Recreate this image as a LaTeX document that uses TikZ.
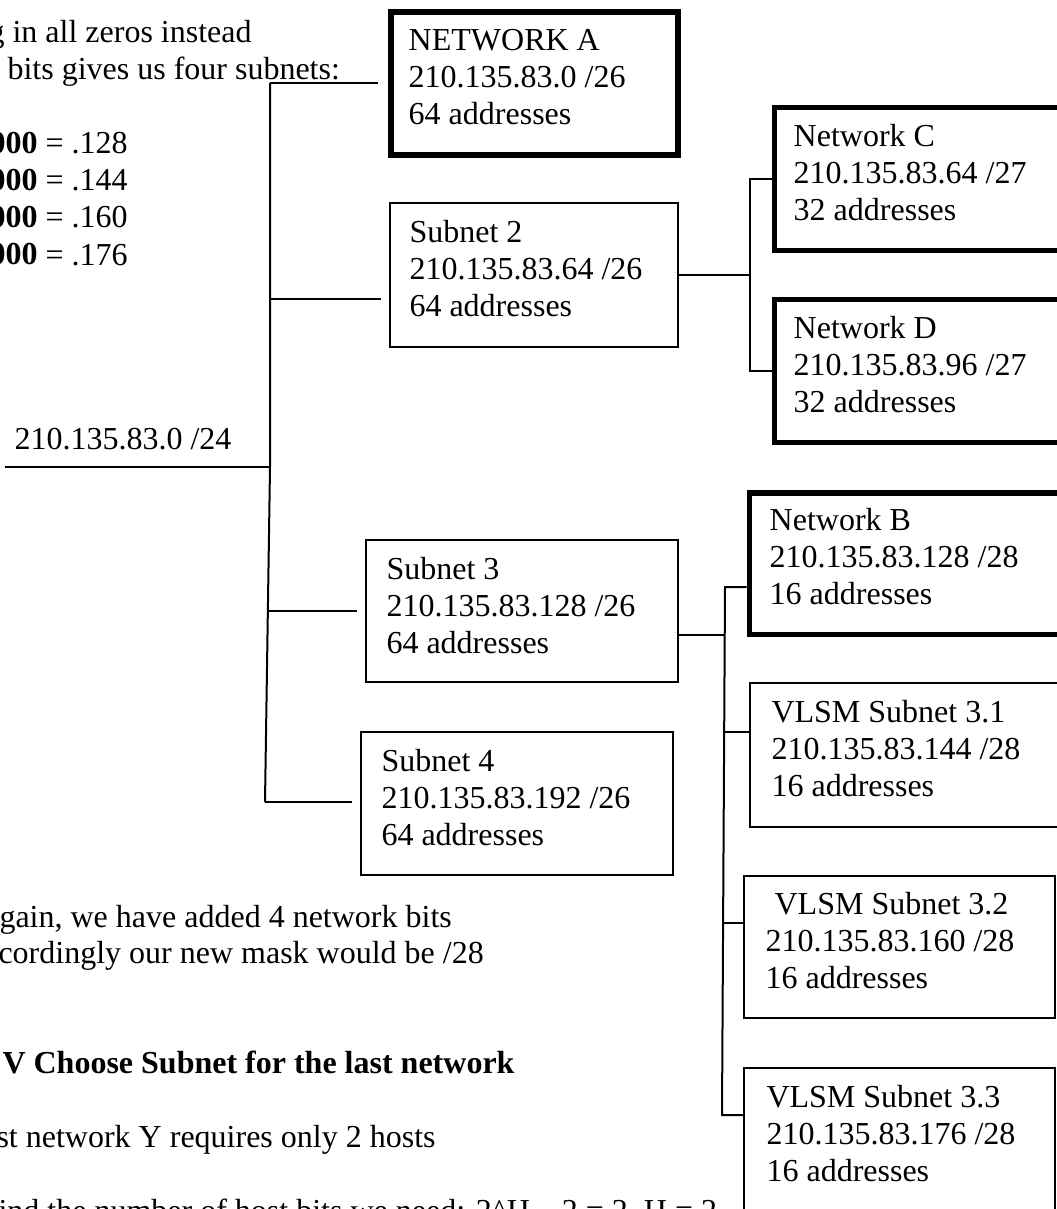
\documentclass[tikz,border=0pt]{standalone}
\usepackage{fontspec}
\setmainfont{Liberation Serif}
\usetikzlibrary{fit,calc}
% stacked lines whose reference point is the first baseline
\newcommand\boxlines[3]{\vtop{\hbox{#1}\hbox{#2}\hbox{#3}}}
\begin{document}
\begin{tikzpicture}[x=0.375pt,y=-0.375pt,
  font=\fontsize{12}{13.875}\selectfont,
  conn/.style={line width=0.75pt},
  gapA/.style={shorten >=3.75pt},
  gapB/.style={shorten >=3pt},
  thinbox/.style={draw, line width=0.75pt, inner sep=0pt},
  thickbox/.style={draw, line width=2.1pt, inner sep=0pt},
  plain/.style={anchor=base west, inner sep=0pt},
  boxtext/.style={plain}]
\useasboundingbox (0,0) rectangle (1057,1209);
\clip (0,0) rectangle (1057,1209);

% running text around the tree
\node[plain] (p1) at (-12,43) {g in all zeros instead};
\node[plain] (p2) at (7,80) {bits gives us four subnets:};
\node[plain] (bin) at (-11,154)
  {\vtop{\hbox{\textbf{000} = .128}\hbox{\textbf{000} = .144}\hbox{\textbf{000} = .160}\hbox{\textbf{000} = .176}}};
\node[plain] (q1) at (-1,927) {gain, we have added 4 network bits};
\node[plain] (q2) at (-2,963) {cordingly our new mask would be /28};
\node[plain] (q3) at (2,1073) {\textbf{V Choose Subnet for the last network}};
\node[plain] (q4) at (-4,1147) {st network Y requires only 2 hosts};
\node[plain] (q5) at (-2,1221) {ind the number of host bits we need: 2\textasciicircum H – 2 = 2, H = 2};

% /26 level
\node[thickbox, fit={(391,12) (678,155)}] (netA) {};
\node[boxtext] (netAt) at ($(netA.north west)+(20,41)$) {\boxlines{NETWORK A}{210.135.83.0 /26}{64 addresses}};
\node[thinbox, fit={(390,203) (678,347)}] (s2) {};
\node[boxtext] (s2t) at ($(s2.north west)+(20,40)$) {\boxlines{Subnet 2}{210.135.83.64 /26}{64 addresses}};
\node[thinbox, fit={(366,540) (678,682)}] (s3) {};
\node[boxtext] (s3t) at ($(s3.north west)+(21,40)$) {\boxlines{Subnet 3}{210.135.83.128 /26}{64 addresses}};
\node[thinbox, fit={(361,732) (673,875)}] (s4) {};
\node[boxtext] (s4t) at ($(s4.north west)+(21,40)$) {\boxlines{Subnet 4}{210.135.83.192 /26}{64 addresses}};

% /27 level
\node[thickbox, fit={(774.5,107.5) (1075,250.5)}] (netC) {};
\node[boxtext] (netCt) at ($(netC.north west)+(21.5,41.5)$) {\boxlines{Network C}{210.135.83.64 /27}{32 addresses}};
\node[thickbox, fit={(774.5,299.5) (1075,442.5)}] (netD) {};
\node[boxtext] (netDt) at ($(netD.north west)+(21.5,41.5)$) {\boxlines{Network D}{210.135.83.96 /27}{32 addresses}};

% /28 level
\node[thickbox, fit={(749.5,493) (1075,634.5)}] (netB) {};
\node[boxtext] (netBt) at ($(netB.north west)+(22.5,40)$) {\boxlines{Network B}{210.135.83.128 /28}{16 addresses}};
\node[thinbox, fit={(750,683) (1075,827)}] (v31) {};
\node[boxtext] (v31t) at ($(v31.north west)+(22,40)$) {\boxlines{VLSM Subnet 3.1}{210.135.83.144 /28}{16 addresses}};
\node[thinbox, fit={(744,876) (1055,1018)}] (v32) {};
\node[boxtext] (v32t) at ($(v32.north west)+(22,39)$) {\boxlines{\hspace*{3.4pt}VLSM Subnet 3.2}{210.135.83.160 /28}{16 addresses}};
\node[thinbox, fit={(744,1068) (1055,1240)}] (v33) {};
\node[boxtext] (v33t) at ($(v33.north west)+(23,40)$) {\boxlines{VLSM Subnet 3.3}{210.135.83.176 /28}{16 addresses}};

% root and trunk
\node[plain] (rootlbl) at (14,449) {210.135.83.0 /24};
\coordinate (rootEnd) at (5,467);
\coordinate (trTop) at (270,83);
\coordinate (trS2) at (270,299);
\coordinate (trRoot) at (270,467);
\coordinate (trS3) at (268,611);
\coordinate (trBot) at (265,802);
\draw[conn] (rootEnd) -- (trRoot);
\draw[conn] (trTop) -- (trRoot) -- (trBot);
\draw[conn, gapA] (trTop) -- (trTop -| netA.west);
\draw[conn, gapB] (trS2) -- (trS2 -| s2.west);
\draw[conn, gapB] (trS3) -- (trS3 -| s3.west);
\draw[conn, gapB] (trBot) -- (trBot -| s4.west);

% Subnet 2 split
\coordinate (jS2) at (750,275);
\coordinate (jC) at (750,179);
\coordinate (jD) at (750,371);
\draw[conn] (s2.east |- jS2) -- (jS2);
\draw[conn] (jC -| netC.west) -- (jC) -- (jD) -- (jD -| netD.west);

% Subnet 3 split
\coordinate (jS3) at (724.7,635);
\coordinate (jB) at (725,587);
\coordinate (jV1) at (724.2,732);
\coordinate (jV2) at (723.1,923);
\coordinate (jV3) at (722,1115);
\draw[conn] (s3.east |- jS3) -- (jS3);
\draw[conn] (jB -| netB.west) -- (jB) -- (jV3) -- (jV3 -| v33.west);
\draw[conn] (jV1) -- (jV1 -| v31.west);
\draw[conn] (jV2) -- (jV2 -| v32.west);
\end{tikzpicture}
\end{document}
